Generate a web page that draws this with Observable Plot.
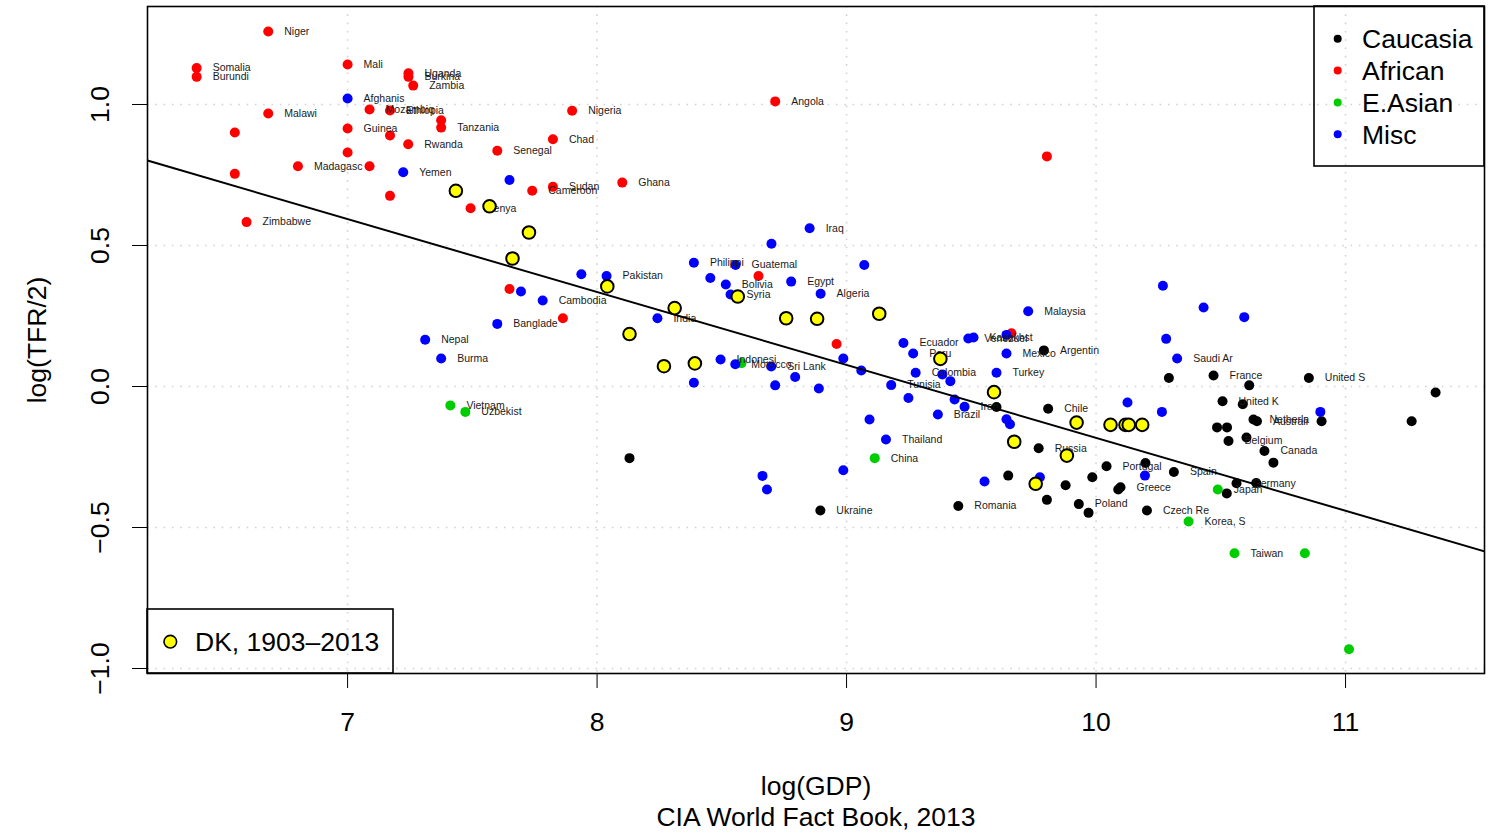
<!DOCTYPE html>
<html><head><meta charset="utf-8">
<script src="https://cdn.jsdelivr.net/npm/d3@7"></script>
<script src="https://cdn.jsdelivr.net/npm/@observablehq/plot@0.6"></script>
<style>body{margin:0;background:#fff} svg{display:block}</style>
</head><body><div id="chart"></div>
<script>
// ---- data ----
const africanNames = ["Niger","Somalia","Burundi","Mali","Uganda","Burkina","Zambia","Malawi","Mozambiq","Ethiopia","","Guinea","","","Tanzania","Rwanda","","Madagasc","","","","Kenya","Zimbabwe","Nigeria","Angola","Chad","Senegal","Sudan","Cameroon","Ghana","","","","","",""];
const africanGDP = [6.682,6.395,6.395,7.000,7.244,7.244,7.263,6.682,7.088,7.170,6.548,7.000,7.170,7.375,7.375,7.243,7.000,6.801,7.088,6.548,7.170,7.493,6.595,7.900,8.714,7.823,7.600,7.823,7.740,8.101,9.803,7.649,7.863,8.647,8.960,9.661];
const africanTFR = [1.259,1.129,1.098,1.142,1.111,1.098,1.067,0.968,0.982,0.979,0.901,0.915,0.890,0.944,0.918,0.859,0.830,0.781,0.781,0.754,0.676,0.632,0.583,0.978,1.011,0.877,0.836,0.708,0.694,0.723,0.816,0.346,0.242,0.392,0.151,0.189];

const miscNames = ["Afghanis","Yemen","","Iraq","Nepal","Burma","","","Pakistan","","Cambodia","Banglade","Philippi","Guatemal","","Bolivia","Syria","Egypt","Algeria","India","Indonesi","Morocco","Sri Lank","","","","","","Malaysia","","","Ecuador","Peru","Venezuel","Kazakhst","","Mexico","Colombia","","","Turkey","Tunisia","","","Iran","Brazil","","","","","Thailand","","","","","Saudi Ar","","","","","","","",""];
const miscGDP = [7.000,7.223,7.649,8.852,7.311,7.375,8.699,7.937,8.038,7.695,7.782,7.600,8.388,8.555,8.454,8.516,8.535,8.778,8.896,8.242,8.495,8.554,8.698,8.794,8.714,8.889,8.388,9.071,9.728,8.987,9.059,9.228,9.267,9.488,9.509,9.641,9.641,9.277,9.384,9.416,9.601,9.179,9.248,9.433,9.473,9.366,10.126,9.092,9.641,9.655,9.158,10.268,10.431,10.594,10.281,10.325,10.264,10.899,8.663,8.681,8.987,9.553,9.775,10.196];
const miscTFR = [1.021,0.760,0.732,0.561,0.166,0.099,0.506,0.398,0.392,0.337,0.305,0.222,0.439,0.431,0.385,0.362,0.326,0.372,0.329,0.242,0.096,0.079,0.071,0.034,0.004,-0.007,0.013,0.431,0.267,0.099,0.057,0.154,0.117,0.170,0.174,0.183,0.117,0.049,0.043,0.019,0.049,0.005,-0.041,-0.046,-0.072,-0.099,-0.057,-0.117,-0.116,-0.134,-0.188,0.357,0.280,0.246,0.169,0.099,-0.090,-0.090,-0.317,-0.365,-0.297,-0.337,-0.322,-0.316];

const asianNames = ["Vietnam","Uzbekist","","China","Japan","Korea, S","Taiwan","",""];
const asianGDP = [7.412,7.472,8.579,9.113,10.488,10.371,10.555,10.837,11.014];
const asianTFR = [-0.067,-0.090,0.083,-0.254,-0.365,-0.479,-0.591,-0.591,-0.932];

const caucNames = ["","Argentin","","Chile","Russia","","Portugal","","France","","United S","","United K","","Netherla","Australi","","","","","Belgium","","Canada","","Ukraine","","","","","Greece","","Poland","","Romania","Czech Re","Spain","Germany","",""];
const caucGDP = [8.130,9.791,9.601,9.808,9.770,10.198,10.042,10.292,10.471,10.614,10.853,11.361,10.507,10.588,10.631,10.645,10.904,11.265,10.485,10.525,10.531,10.603,10.675,10.711,8.895,9.648,9.878,9.985,10.089,10.098,9.803,9.931,9.970,9.448,10.204,10.312,10.563,10.642,10.524];
const caucTFR = [-0.254,0.128,-0.073,-0.079,-0.219,-0.271,-0.283,0.030,0.039,0.004,0.030,-0.021,-0.052,-0.063,-0.117,-0.123,-0.123,-0.123,-0.145,-0.145,-0.193,-0.181,-0.229,-0.270,-0.440,-0.316,-0.350,-0.322,-0.365,-0.357,-0.402,-0.417,-0.448,-0.424,-0.440,-0.303,-0.343,-0.342,-0.379];

const dkGDP = [7.434,7.569,7.727,7.661,8.041,8.311,8.564,8.130,8.758,8.882,9.131,8.268,8.392,9.376,9.591,9.672,9.883,9.758,9.922,10.058,10.118,10.131,10.185];
const dkTFR = [0.694,0.639,0.546,0.454,0.355,0.278,0.319,0.186,0.242,0.240,0.258,0.072,0.082,0.098,-0.020,-0.196,-0.245,-0.345,-0.128,-0.136,-0.136,-0.136,-0.136];

const regions = ["Caucasia","African","E.Asian","Misc"];
const regionColors = ["#000000","#FF0000","#00CD00","#0000FF"];
const xTicks = [7,8,9,10,11];
const yTicks = [-1,-0.5,0,0.5,1];
const yTickLabels = ["\u22121.0","\u22120.5","0.0","0.5","1.0"];
const fitCoef = [2.404, -0.2586]; // intercept, slope of the fitted line
const xDomain = [6.198, 11.557];
const yDomain = [-1.0177, 1.3475];

// ---- tables ----
const rows = (names, gx, ty, reg) => names.map((n, i) => ({name: n, x: gx[i], y: ty[i], region: reg}));
const countries = [
  ...rows(caucNames, caucGDP, caucTFR, "Caucasia"),
  ...rows(africanNames, africanGDP, africanTFR, "African"),
  ...rows(asianNames, asianGDP, asianTFR, "E.Asian"),
  ...rows(miscNames, miscGDP, miscTFR, "Misc")
];
const dk = dkGDP.map((x, i) => ({x, y: dkTFR[i]}));
const fitLine = xDomain.map(x => ({x, y: fitCoef[0] + fitCoef[1] * x}));

const FONT = "'Liberation Sans', Arial, Helvetica, sans-serif";
const W = 1506, H = 836, mL = 147, mR = 22, mT = 6, mB = 163;
const FS = 26.5;
const grid = {stroke: "#d3d3d3", strokeOpacity: 1, strokeWidth: 1.6, strokeDasharray: "1.6,6.7"};

const plot = Plot.plot({
  width: W, height: H,
  marginLeft: mL, marginRight: mR, marginTop: mT, marginBottom: mB,
  style: {fontFamily: FONT, fontSize: FS + "px", background: "#fff", color: "#000", overflow: "visible"},
  x: {domain: xDomain, label: null},
  y: {domain: yDomain, label: null},
  color: {domain: regions, range: regionColors},
  marks: [
    Plot.gridX(xTicks, grid),
    Plot.gridY(yTicks, grid),
    Plot.dot(countries, {x: "x", y: "y", r: 5, fill: "region"}),
    Plot.text(countries.filter(d => d.name), {x: "x", y: "y", text: "name", dx: 16, textAnchor: "start", fontSize: 10.5, fill: "#1a1a1a"}),
    Plot.line(fitLine, {x: "x", y: "y", stroke: "black", strokeWidth: 2, clip: true}),
    Plot.dot(dk, {x: "x", y: "y", r: 6.3, fill: "#FFFF00", stroke: "black", strokeWidth: 2}),
    Plot.frame({stroke: "black", strokeWidth: 1.6}),
    Plot.axisX({ticks: xTicks, tickSize: 15, tickPadding: 24, fontSize: FS, label: null, tickFormat: d => String(d)}),
    Plot.axisY({ticks: yTicks, tickSize: 15, tickFormat: () => "", label: null}),
    Plot.text(yTicks, {y: d => d, text: (d, i) => yTickLabels[i], frameAnchor: "left", dx: -47, rotate: -90, textAnchor: "middle", lineAnchor: "middle", fontSize: FS}),
    Plot.text(["log(GDP)"], {text: d => d, frameAnchor: "bottom", dy: 113, textAnchor: "middle", lineAnchor: "middle", fontSize: FS}),
    Plot.text(["CIA World Fact Book, 2013"], {text: d => d, frameAnchor: "bottom", dy: 144, textAnchor: "middle", lineAnchor: "middle", fontSize: FS}),
    Plot.text(["log(TFR/2)"], {text: d => d, frameAnchor: "left", dx: -110, rotate: -90, textAnchor: "middle", lineAnchor: "middle", fontSize: FS})
  ]
});

// ---- legends ----
const svg = d3.select(plot);
const right = W - mR, bottom = H - mB;
const lg = svg.append("g").attr("font-family", FONT).attr("font-size", FS).attr("text-anchor", "start");
lg.append("rect").attr("x", right - 170).attr("y", mT).attr("width", 170).attr("height", 160)
  .attr("fill", "none").attr("stroke", "black").attr("stroke-width", 1.6);
regions.forEach((r, i) => {
  const cy = mT + 32.7 + i * 31.85;
  lg.append("circle").attr("cx", right - 146.3).attr("cy", cy).attr("r", 4).attr("fill", regionColors[i]);
  lg.append("text").attr("x", right - 122).attr("y", cy).attr("dy", "0.35em").attr("text-anchor", "start").text(r);
});
const lg2 = svg.append("g").attr("font-family", FONT).attr("font-size", FS).attr("text-anchor", "start");
lg2.append("rect").attr("x", mL).attr("y", bottom - 64).attr("width", 246).attr("height", 64)
  .attr("fill", "none").attr("stroke", "black").attr("stroke-width", 1.6);
lg2.append("circle").attr("cx", mL + 23.3).attr("cy", bottom - 31.3).attr("r", 6.3)
  .attr("fill", "#FFFF00").attr("stroke", "black").attr("stroke-width", 1.6);
lg2.append("text").attr("x", mL + 48).attr("y", bottom - 31.3).attr("dy", "0.35em").attr("text-anchor", "start").text("DK, 1903\u20132013");

document.getElementById("chart").appendChild(plot);
</script>
</body></html>
